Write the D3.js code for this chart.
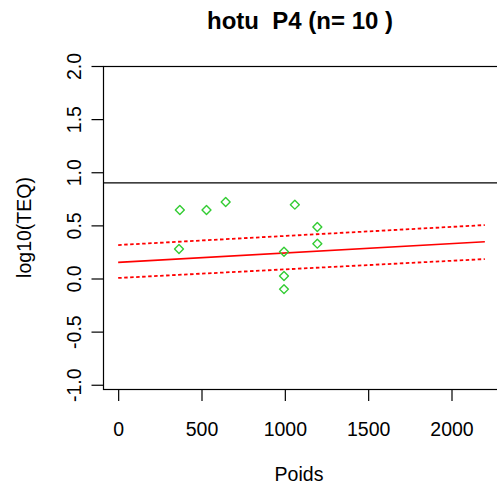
<!DOCTYPE html>
<html>
<head>
<meta charset="utf-8">
<script src="https://cdn.jsdelivr.net/npm/d3@7"></script>
<style>
  body { margin: 0; background: #fff; }
  text { font-family: "Liberation Sans", Arial, sans-serif; fill: #000; white-space: pre; }
</style>
</head>
<body>
<div id="chart"></div>
<script>
/* DATA */
const poids = [370, 530, 645, 1060, 1195, 1195, 365, 995, 995, 995];
const logTEQ = [0.645, 0.645, 0.72, 0.695, 0.485, 0.328, 0.278, 0.252, 0.024, -0.10];
const fitX = [0, 2200];
const fitY = [0.152, 0.346];
const upperY = [0.315, 0.503];
const lowerY = [0.005, 0.183];
const xTicks = [0, 500, 1000, 1500, 2000];
const yTicks = [-1.0, -0.5, 0.0, 0.5, 1.0, 1.5, 2.0];
const seuil = 0.9;

const W = 497, H = 490;
const plot = { left: 103.5, right: 499.5, top: 66, bottom: 389 };

const svg = d3.select('#chart').append('svg')
  .attr('width', W).attr('height', H);

// scales
const x = d3.scaleLinear().domain([-88, 2288]).range([plot.left, plot.right]);
const y = d3.scaleLinear().domain([-1.04, 2.0]).range([plot.bottom, plot.top]);

// title (keep the double space)
svg.append('text')
  .attr('x', 300).attr('y', 29)
  .attr('text-anchor', 'middle')
  .attr('xml:space', 'preserve')
  .style('font-size', '24px').style('font-weight', 'bold')
  .text('hotu  P4 (n= 10 )');

// box
svg.append('rect')
  .attr('x', plot.left).attr('y', plot.top + 0.5)
  .attr('width', plot.right - plot.left).attr('height', plot.bottom - plot.top)
  .attr('fill', 'none').attr('stroke', '#000').attr('stroke-width', 1.2);

// axes
const xAxis = svg.append('g')
  .attr('transform', `translate(0, ${plot.bottom})`)
  .call(d3.axisBottom(x).tickValues(xTicks).tickSize(12).tickSizeOuter(0).tickFormat(d => d));
xAxis.select('.domain')
  .attr('d', `M${x(0)},0.5H${x(2000)}`).attr('stroke-width', 1.2);
xAxis.selectAll('line').attr('stroke-width', 1.2);
xAxis.selectAll('text')
  .attr('y', 47).attr('dy', 0)
  .style('font-size', '19.5px').style('font-family', '"Liberation Sans", Arial, sans-serif');

const yAxis = svg.append('g')
  .attr('transform', `translate(${plot.left}, 0)`)
  .call(d3.axisLeft(y).tickValues(yTicks).tickSize(12).tickSizeOuter(0).tickFormat(d => d.toFixed(1)));
yAxis.select('.domain').remove();
yAxis.selectAll('line').attr('stroke-width', 1.2);
yAxis.selectAll('text')
  .attr('x', 0).attr('dy', 0)
  .attr('text-anchor', 'middle')
  .attr('transform', 'translate(-23,0) rotate(-90)')
  .style('font-size', '19.5px').style('font-family', '"Liberation Sans", Arial, sans-serif');

// axis titles
svg.append('text')
  .attr('x', 299).attr('y', 481)
  .attr('text-anchor', 'middle')
  .style('font-size', '19.5px')
  .text('Poids');
svg.append('text')
  .attr('transform', `translate(31, ${(plot.top + plot.bottom) / 2}) rotate(-90)`)
  .attr('text-anchor', 'middle')
  .style('font-size', '19.5px')
  .text('log10(TEQ)');

// threshold line
svg.append('line')
  .attr('x1', plot.left).attr('x2', plot.right)
  .attr('y1', y(seuil)).attr('y2', y(seuil))
  .attr('stroke', '#000').attr('stroke-width', 1.3);

// regression + confidence band
const line = d3.line().x(d => x(d[0])).y(d => y(d[1]));
svg.append('path')
  .datum(fitX.map((v, i) => [v, fitY[i]]))
  .attr('d', line).attr('fill', 'none')
  .attr('stroke', '#ff0000').attr('stroke-width', 1.7);
[upperY, lowerY].forEach(arr => {
  svg.append('path')
    .datum(fitX.map((v, i) => [v, arr[i]]))
    .attr('d', line).attr('fill', 'none')
    .attr('stroke', '#ff0000').attr('stroke-width', 1.8)
    .attr('stroke-dasharray', '3.5,2.5');
});

// points
const sym = d3.symbol().type(d3.symbolSquare).size(40);
svg.selectAll('.pt')
  .data(poids.map((p, i) => ({ p: p, v: logTEQ[i] })))
  .enter()
  .append('path')
  .attr('class', 'pt')
  .attr('d', sym)
  .attr('transform', d => `translate(${x(d.p)}, ${y(d.v)}) rotate(45)`)
  .attr('fill', 'none')
  .attr('stroke', '#33cc33')
  .attr('stroke-width', 1.4)
  .attr('stroke-linejoin', 'round');
</script>
</body>
</html>
